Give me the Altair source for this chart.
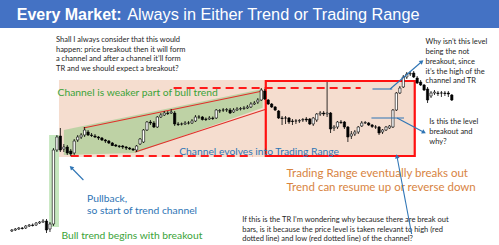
import altair as alt
import pandas as pd

# ---------------- candle data (bar index, price units) ----------------
opens = [14, 15, 16, 17, 17, 19, 20, 20, 22, 23, 24, 16, 21, 95, 109, 96, 98, 94, 92, 105,
         108, 110, 113, 110, 109, 108, 107, 105, 104, 102, 100, 99, 99, 98, 97, 96, 95, 101, 103, 115,
         123, 122, 118, 128, 130, 132, 132, 132, 121, 121, 121, 122, 122, 124, 128, 128, 126, 126, 127, 127,
         134, 135, 135, 135, 133, 135, 136, 136.5, 137, 138, 141, 143, 145, 154, 145, 141, 138, 134, 127, 127,
         127, 124, 124, 124, 125, 126, 126, 121, 125, 131, 132, 131, 132, 117, 118, 123, 123, 118, 109, 111,
         113, 119, 122, 122, 120, 118, 118, 113, 115, 117, 118, 135, 152, 158, 168, 171, 172, 167, 163, 160,
         156, 149, 152, 152, 152, 152, 152, 150]
highs = [16, 17, 18, 18, 20, 21, 21.5, 23, 24, 26, 26, 23, 97, 110, 117, 101, 100, 96, 106, 110,
         112, 118, 115, 112, 111, 109, 108, 106, 105, 103, 101, 100, 100, 99, 98, 97, 100, 107, 116, 124,
         125, 124, 129, 132, 134, 134, 136, 134, 123, 122.5, 124, 124, 126, 130, 130, 129, 127.5, 129, 128.5, 136,
         136, 137, 137, 137, 137, 138, 138, 139, 140, 143, 144, 147, 157, 156, 146, 142, 139, 135, 129, 129,
         128, 126, 126, 126, 127, 128, 127, 128, 132, 134, 134, 163, 133, 120, 124, 125, 124, 119, 114, 115,
         119, 124, 124, 123, 121, 120, 119, 116, 119, 120, 136, 153, 159, 170, 173, 174, 174, 169, 165, 161,
         158, 154, 155, 154, 154, 154, 154, 151]
lows = [13, 14, 15, 15.5, 16, 18, 18.5, 19, 21, 22, 12, 13, 19, 93, 93, 93, 90, 89, 90, 103,
        106, 108, 109, 108, 107, 105, 104, 102, 101, 99, 98, 97, 96, 95, 95, 94, 93, 100, 102, 114,
        120, 117, 117, 127, 129, 130, 131, 119, 119, 119.5, 120, 120.5, 121, 123, 126, 124.5, 124, 125, 125, 126,
        132, 133, 133, 131, 132, 134, 134.5, 135, 136, 137, 140, 141, 144, 145, 140, 137, 134, 126, 120, 121,
        121, 120, 121, 122, 123, 123, 120, 119, 123, 129, 129, 128, 112, 114, 116, 121, 116, 103, 106, 109,
        111, 118, 121, 119, 117, 116, 110, 111, 114, 116, 117, 134, 151, 157, 166, 169, 167, 161, 159, 154,
        142, 147, 150, 149, 148, 149, 148, 144]
closes = [15, 16, 17, 16.5, 19, 20, 19.5, 22, 23, 24, 15, 21, 95, 108, 95, 98, 92, 91, 104, 108,
          110, 115, 110, 109.5, 108, 107, 105, 104, 102, 99.5, 99, 98.5, 98, 97, 96, 95, 99, 106, 115, 123,
          122, 118, 128, 130, 132, 131.5, 133, 121, 120.5, 121, 122, 122, 124, 128, 128, 125.5, 125.5, 127, 126.5, 135,
          134.5, 135, 135.5, 132, 135, 136, 136.5, 137, 138, 141, 142, 145, 155, 146, 141, 138, 135, 127, 126.5, 127,
          123, 123.5, 124, 124.5, 125.5, 125, 121, 127, 131, 132, 131, 132, 116, 118, 123, 122.5, 118, 108, 111, 113,
          118, 122, 122.5, 120, 118.5, 118, 112, 115, 118, 119, 135, 152, 157, 168, 171, 171.5, 168, 162, 160, 155,
          145, 152, 153, 151.5, 152, 151.5, 151, 145]

rows = []
for i, (o, h, l, c) in enumerate(zip(opens, highs, lows, closes)):
    rows.append({"t": i, "o": o, "h": h, "l": l, "c": c, "dir": "up" if c >= o else "down"})
candles = pd.DataFrame(rows)

# ---------------- annotation data ----------------
title_bold = "Every Market:"
title_rest = "Always in Either Trend or Trading Range"

green_txt = ["Channel is weaker part of bull trend", "Bull trend begins with breakout"]
green_t = [13.2, 14.3]
green_p = [151.7, 9.3]

blue_txt = ["Channel evolves into Trading Range", "Pullback,", "so start of trend channel"]
blue_t = [48.3, 21.7, 21.7]
blue_p = [92.7, 46.0, 34.3]

orange_txt = ["Trading Range eventually breaks out", "Trend can resume up or reverse down"]
orange_t = [79.3, 79.3]
orange_p = [70.7, 56.7]

q_lines = ["Shall I always consider that this would",
           "happen: price breakout then it will form",
           "a channel and after a channel it\u2019ll form",
           "TR and we should expect a breakout?"]
q_t = 12.73
q_p = [205, 195.5, 186, 176.5]

r_lines = ["Why isn\u2019t this level", "being the not", "breakout, since",
           "it\u2019s the high of the", "channel and TR"]
r_t = 119.4
r_p = [203.3, 193.3, 183.5, 173.5, 164]

b_lines = ["Is this the level", "breakout and", "why?"]
b_t = 120.5
b_p = [122.7, 113.3, 103.5]

bottom_lines = ["If this is the TR I\u2019m wondering why because there are break out",
                "bars, is it because the price level is taken relevant to high (red",
                "dotted line) and low (red dotted line) of the channel?"]
bottom_t = 66.5
bottom_p = [25, 15.5, 6]

# zones
peach_zone = {"t": 13.6, "t2": 116.3, "p": 88, "p2": 165}
green_hl = {"t": 10.75, "t2": 13.6, "p": 18, "p2": 110}
chan_t = [15.0, 35.6, 72.4]
chan_top = [115, 129.7, 156]
chan_bot = [90, 92, 137.3]
red_lines = [(20.65, 117, 72.4, 154), (35.6, 93, 73.55, 136)]
dashed_lines = [(46.7, 157, 100.7, 157), (17, 89, 69.6, 89)]
tr_box = {"t": 73.3, "t2": 116.3, "p": 89, "p2": 164}
# blue lines: (t, p, t2, p2)
blue_lines = [(20.65, 65, 17.26, 77), (104.1, 156, 109.8, 156), (109.2, 156, 118.2, 183),
              (103.8, 127, 113.2, 127), (111.2, 127, 118.8, 113), (115.4, 11, 111.2, 88)]
heads_t = [17.26, 118.2, 118.8, 111.2]
heads_p = [77, 183, 113, 88]
heads_ang = [315, 50, 117, 349]

# ---------------- chart ----------------
W, H = 499, 245
xs = alt.Scale(domain=[-1.98, 139.18], nice=False, zero=False)
ys = alt.Scale(domain=[0, 245], nice=False, zero=False)
X = lambda f: alt.X(f, type="quantitative", scale=xs, axis=None)
Y = lambda f: alt.Y(f, type="quantitative", scale=ys, axis=None)

FONT = "Lato"

band = alt.Chart(pd.DataFrame({"a": [0]})).mark_rect(color="#4472c4").encode(
    x=alt.value(0), x2=alt.value(W), y=alt.value(0), y2=alt.value(28))

title_df = pd.DataFrame({"t": [1.41, 33.3], "p": [225, 225], "txt": [title_bold, title_rest]})
title1 = alt.Chart(title_df.iloc[[0]]).mark_text(align="left", baseline="alphabetic", font="Liberation Sans",
                                                  fontSize=16.0, fontWeight="bold", color="white").encode(
    x=X("t"), y=Y("p"), text="txt:N")
title2 = alt.Chart(title_df.iloc[[1]]).mark_text(align="left", baseline="alphabetic", font="Liberation Sans",
                                                  fontSize=16.3, color="white").encode(
    x=X("t"), y=Y("p"), text="txt:N")

peach = alt.Chart(pd.DataFrame([peach_zone])).mark_rect(color="#f5ddcf").encode(
    x=X("t"), x2="t2", y=Y("p"), y2="p2")
ghl = alt.Chart(pd.DataFrame([green_hl])).mark_rect(color="#c6e7bf").encode(
    x=X("t"), x2="t2", y=Y("p"), y2="p2")
chan = alt.Chart(pd.DataFrame({"t": chan_t, "top": chan_top, "bot": chan_bot})).mark_area(
    color="#9fcd8f", opacity=0.65).encode(x=X("t"), y=Y("top"), y2="bot")

def seg_df(segs):
    return pd.DataFrame([{"t": a, "p": b, "t2": c, "p2": d} for a, b, c, d in segs])

redl = alt.Chart(seg_df(red_lines)).mark_rule(color="#e0302a", strokeWidth=1.1).encode(
    x=X("t"), y=Y("p"), x2="t2", y2="p2")
dash = alt.Chart(seg_df(dashed_lines)).mark_rule(color="#ff1a1a", strokeWidth=2, strokeDash=[8, 5]).encode(
    x=X("t"), y=Y("p"), x2="t2", y2="p2")
box = alt.Chart(pd.DataFrame([tr_box])).mark_rect(fill=None, stroke="#ff1010", strokeWidth=2.2,
                                                  fillOpacity=0).encode(
    x=X("t"), x2="t2", y=Y("p"), y2="p2")

wick = alt.Chart(candles).mark_rule(color="black", strokeWidth=0.8).encode(
    x=X("t"), y=Y("l"), y2="h")
body = alt.Chart(candles).mark_bar(width=2.3, stroke="black", strokeWidth=0.6).encode(
    x=X("t"), y=Y("o"), y2="c",
    fill=alt.Fill("dir:N", scale=alt.Scale(domain=["up", "down"], range=["white", "black"]), legend=None))

def texts(txt, t, p, color, size):
    if not isinstance(t, list):
        t = [t] * len(txt)
    df = pd.DataFrame({"t": t, "p": p, "txt": txt})
    return alt.Chart(df).mark_text(align="left", baseline="middle", font=FONT, fontSize=size,
                                   color=color).encode(x=X("t"), y=Y("p"), text="txt:N")

tg = texts(green_txt, green_t, green_p, "#3ba338", 10.3)
tb = texts(blue_txt, blue_t, blue_p, "#2f75b5", 10.3)
to = texts(orange_txt, orange_t, orange_p, "#d8843f", 11.5)
tq = texts(q_lines, q_t, q_p, "#262626", 7.5)
tr = texts(r_lines, r_t, r_p, "#262626", 7.5)
tbl = texts(b_lines, b_t, b_p, "#262626", 7.5)
tbot = texts(bottom_lines, bottom_t, bottom_p, "#262626", 7.5)

bl = alt.Chart(seg_df(blue_lines)).mark_rule(color="#2f75b5", strokeWidth=1.1).encode(
    x=X("t"), y=Y("p"), x2="t2", y2="p2")
heads = alt.Chart(pd.DataFrame({"t": heads_t, "p": heads_p, "a": heads_ang})).mark_point(
    shape="triangle", filled=True, color="#2f75b5", size=22, opacity=1).encode(
    x=X("t"), y=Y("p"), angle=alt.Angle("a:Q", scale=None))

chart = alt.layer(band, title1, title2, peach, ghl, chan, dash, redl, box, wick, body,
                  tg, tb, to, tq, tr, tbl, tbot, bl, heads).properties(
    width=W, height=H, padding=0, autosize=alt.AutoSizeParams(type="none"), background="white"
).configure_view(stroke=None)

chart.save("out.html", embed_options={"renderer": "svg", "actions": False})
